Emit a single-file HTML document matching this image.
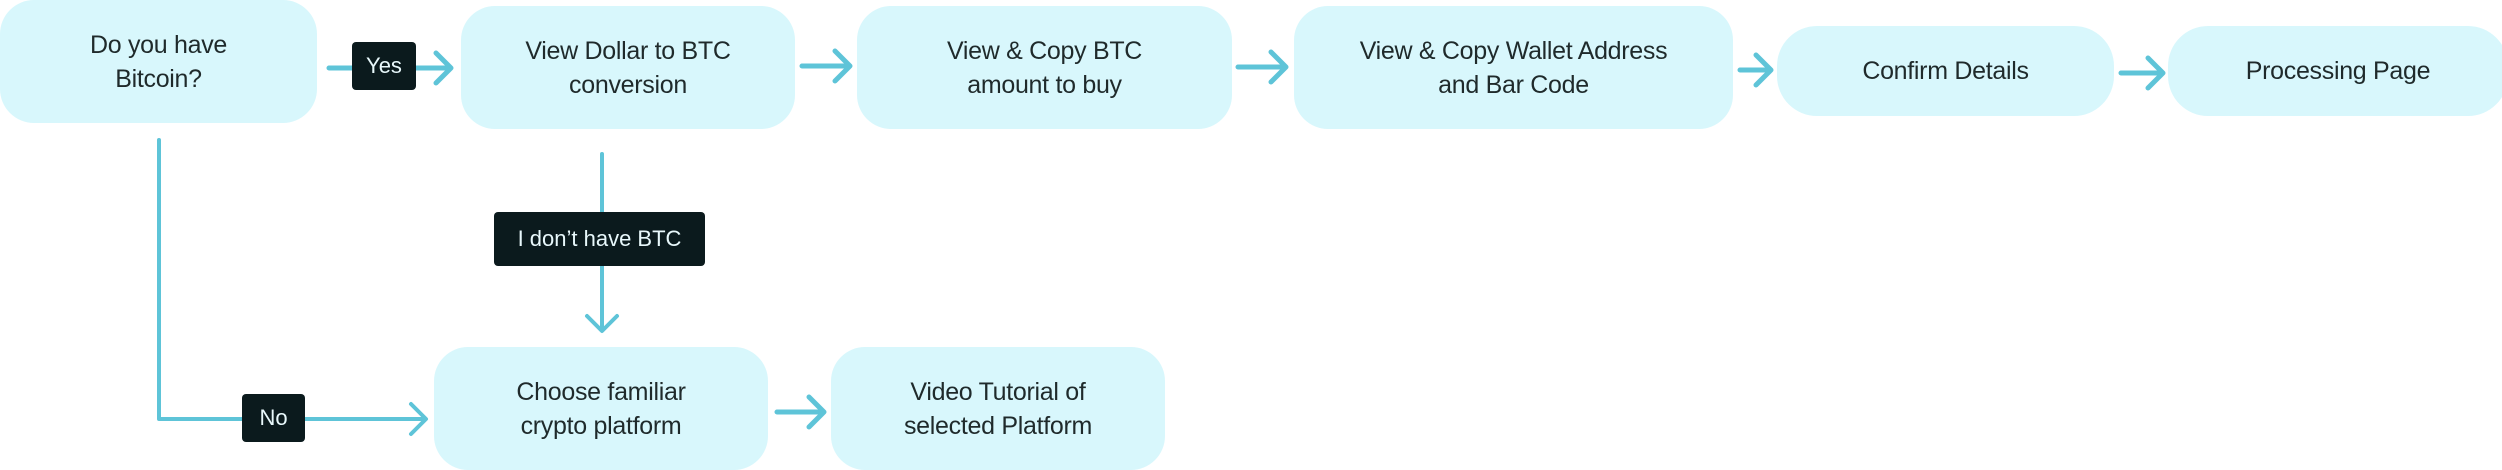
<!DOCTYPE html>
<html><head><meta charset="utf-8"><style>
body{margin:0;width:2502px;height:470px;background:#fff;position:relative;overflow:hidden;font-family:"Liberation Sans",sans-serif}
.b{position:absolute;background:#d8f7fc;border-radius:34px;display:flex;align-items:center;justify-content:center;text-align:center;color:#1f2a2b;font-size:25px;line-height:34px;letter-spacing:-0.3px}
.l{position:absolute;background:#0b1a1d;color:#e8f8fb;border-radius:4px;display:flex;align-items:center;justify-content:center;font-size:22px}
svg{position:absolute;left:0;top:0}
</style></head><body>
<svg width="2502" height="470" fill="none" stroke="#5ec4d8" stroke-width="5" stroke-linecap="round" stroke-linejoin="round">
<path d="M329 68H450M436 53L451 68L436 83"/>
<path d="M802 66H849M835 51L850 66L835 81"/>
<path d="M1238 67H1285M1271 52L1286 67L1271 82"/>
<path d="M1740 70H1770M1756 55L1771 70L1756 85"/>
<path d="M2121 73H2162M2148 58L2163 73L2148 88"/>
<path d="M159 140V419H425M411 404L426 419L411 434" stroke-width="4"/>
<path d="M602 154V330M587 316L602 331L617 316" stroke-width="4"/>
<path d="M777 412H823M809 397L824 412L809 427"/>
</svg>
<div class="b" style="left:0;top:0;width:317px;height:123px">Do you have<br>Bitcoin?</div>
<div class="b" style="left:461px;top:6px;width:334px;height:123px">View Dollar to BTC<br>conversion</div>
<div class="b" style="left:857px;top:6px;width:375px;height:123px">View &amp; Copy BTC<br>amount to buy</div>
<div class="b" style="left:1294px;top:6px;width:439px;height:123px">View &amp; Copy Wallet Address<br>and Bar Code</div>
<div class="b" style="left:1777px;top:26px;width:337px;height:90px;border-radius:40px">Confirm Details</div>
<div class="b" style="left:2168px;top:26px;width:340px;height:90px;border-radius:40px">Processing Page</div>
<div class="b" style="left:434px;top:347px;width:334px;height:123px">Choose familiar<br>crypto platform</div>
<div class="b" style="left:831px;top:347px;width:334px;height:123px">Video Tutorial of<br>selected Platform</div>
<div class="l" style="left:352px;top:42px;width:64px;height:48px">Yes</div>
<div class="l" style="left:494px;top:212px;width:211px;height:54px">I don’t have BTC</div>
<div class="l" style="left:242px;top:394px;width:63px;height:48px">No</div>
</body></html>
